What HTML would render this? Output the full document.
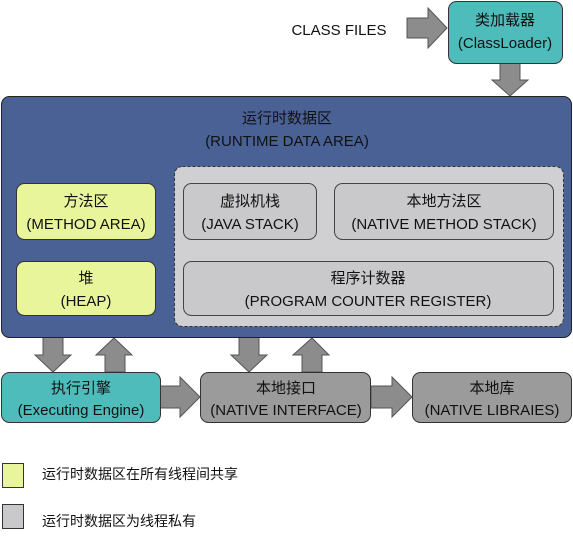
<!DOCTYPE html>
<html><head><meta charset="utf-8"><style>
html,body{margin:0;padding:0;background:#fff;}
svg text{font-family:"Liberation Sans","Noto Sans CJK SC",sans-serif;font-size:15px;text-anchor:middle;fill:#111;}
</style></head><body>
<svg width="573" height="533" viewBox="0 0 573 533" xmlns="http://www.w3.org/2000/svg">
<g fill="#8c8c8c" stroke="#555" stroke-width="1">
<polygon points="407,18 428,18 428,8 447,28 428,48 428,38 407,38"/>
<polygon points="500,63 520,63 520,80 528,80 510,96 492,80 500,80"/>
<polygon points="43,337 63,337 63,355 71,355 53,372 35,355 43,355"/>
<polygon points="105,372 125,372 125,355 132,355 114,338 96,355 105,355"/>
<polygon points="239,337 259,337 259,355 267,355 249,372 231,355 239,355"/>
<polygon points="302,372 322,372 322,355 329,355 312,338 293,355 302,355"/>
<polygon points="160,386 180,386 180,377 200,397 180,417 180,408 160,408"/>
<polygon points="371,386 392,386 392,377 412,397 392,417 392,408 371,408"/>
</g>
<text x="339" y="35">CLASS FILES</text>
<rect x="448.5" y="1.5" width="114" height="62" rx="8" fill="#4fbcbc" stroke="#333"/>
<text x="505" y="25">类加载器</text>
<text x="505" y="48">(ClassLoader)</text>

<rect x="1.5" y="96.5" width="570" height="241" rx="8" fill="#4a6196" stroke="#222"/>
<text x="287" y="123">运行时数据区</text>
<text x="287" y="146">(RUNTIME DATA AREA)</text>

<rect x="174.5" y="166.5" width="389" height="160" rx="8" fill="#d0d0d2" stroke="#333" stroke-dasharray="3,2"/>

<rect x="16.5" y="183.5" width="139" height="56" rx="8" fill="#e9f59a" stroke="#333"/>
<text x="86" y="206">方法区</text>
<text x="86" y="229">(METHOD AREA)</text>
<rect x="16.5" y="261.5" width="139" height="54" rx="8" fill="#e9f59a" stroke="#333"/>
<text x="86" y="283">堆</text>
<text x="86" y="306">(HEAP)</text>

<rect x="183.5" y="183.5" width="133" height="56" rx="8" fill="#c9c9cb" stroke="#444"/>
<text x="250" y="206">虚拟机栈</text>
<text x="250" y="229">(JAVA STACK)</text>
<rect x="334.5" y="183.5" width="219" height="56" rx="8" fill="#c9c9cb" stroke="#444"/>
<text x="444" y="206">本地方法区</text>
<text x="444" y="229">(NATIVE METHOD STACK)</text>
<rect x="183.5" y="261.5" width="370" height="54" rx="8" fill="#c9c9cb" stroke="#444"/>
<text x="368" y="283">程序计数器</text>
<text x="368" y="306">(PROGRAM COUNTER REGISTER)</text>

<rect x="1.5" y="372.5" width="159" height="50" rx="8" fill="#4fbcbc" stroke="#333"/>
<text x="81" y="393">执行引擎</text>
<text x="81" y="415">(Executing Engine)</text>
<rect x="200.5" y="372.5" width="170" height="50" rx="8" fill="#9b9b9b" stroke="#333"/>
<text x="286" y="393">本地接口</text>
<text x="286" y="415">(NATIVE INTERFACE)</text>
<rect x="412.5" y="372.5" width="159" height="50" rx="8" fill="#9b9b9b" stroke="#333"/>
<text x="492" y="393">本地库</text>
<text x="492" y="415">(NATIVE LIBRAIES)</text>

<rect x="2.5" y="463.5" width="21" height="24" fill="#e9f59a" stroke="#333"/>
<text x="42" y="479" style="text-anchor:start;font-size:14px">运行时数据区在所有线程间共享</text>
<rect x="2.5" y="504.5" width="21" height="24" fill="#c9c9cb" stroke="#333"/>
<text x="42" y="526" style="text-anchor:start;font-size:14px">运行时数据区为线程私有</text>
</svg>
</body></html>
